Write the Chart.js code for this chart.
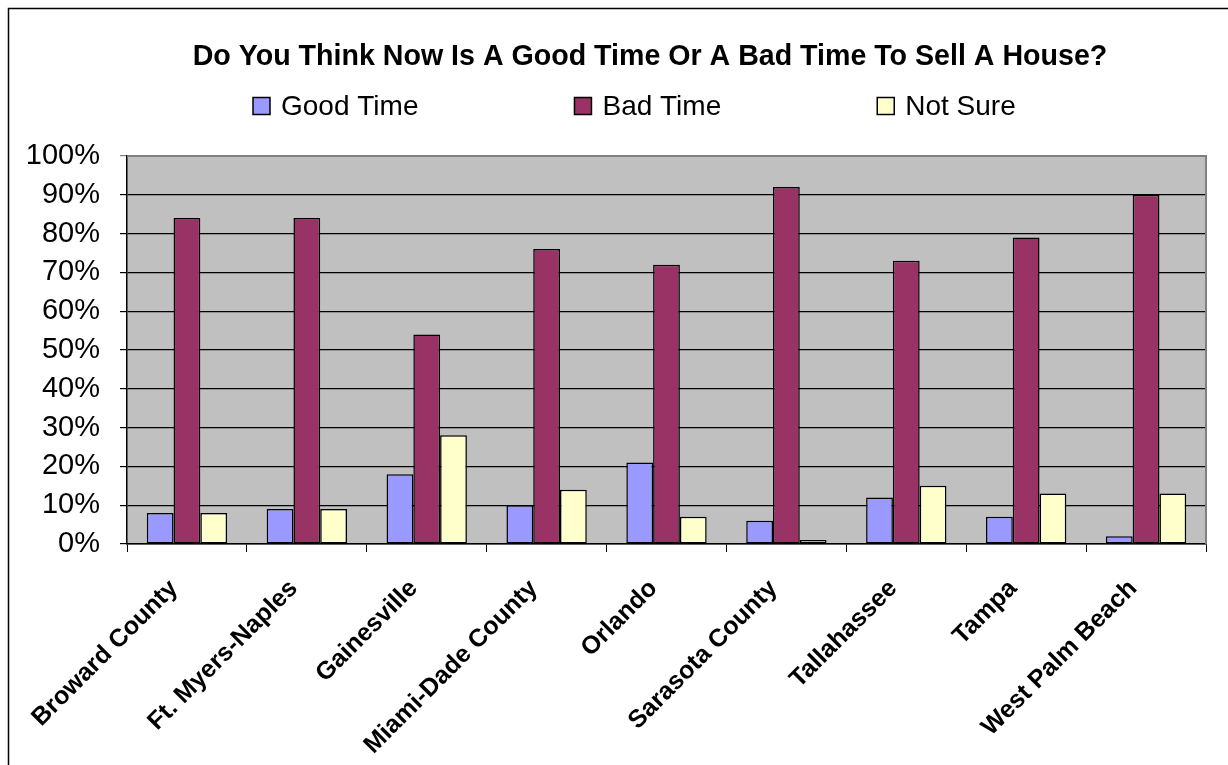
<!DOCTYPE html>
<html>
<head>
<meta charset="utf-8">
<title>Do You Think Now Is A Good Time Or A Bad Time To Sell A House?</title>
<script src="https://cdn.jsdelivr.net/npm/chart.js@4.4.1/dist/chart.umd.min.js"></script>
<style>
  html, body { margin: 0; padding: 0; background: #fff; }
  #wrap { width: 1228px; height: 765px; position: relative; }
</style>
</head>
<body>
<div id="wrap"><canvas id="chart" width="1228" height="765"></canvas></div>
<script>
// Survey answers by market, in percent
const chartTitle = 'Do You Think Now Is A Good Time Or A Bad Time To Sell A House?';
const markets = ['Broward County', 'Ft. Myers-Naples', 'Gainesville', 'Miami-Dade County',
  'Orlando', 'Sarasota County', 'Tallahassee', 'Tampa', 'West Palm Beach'];
const seriesNames = ['Good Time', 'Bad Time', 'Not Sure'];
const goodTime = [8, 9, 18, 10, 21, 6, 12, 7, 2];
const badTime  = [84, 84, 54, 76, 72, 92, 73, 79, 90];
const notSure  = [8, 9, 28, 14, 7, 1, 15, 13, 13];
const seriesColors = ['#9999FF', '#993366', '#FFFFCC'];

const FONT = '"Liberation Sans", Arial, Helvetica, sans-serif';

// Gray plot area, outer frame and the plot's top/right edge
const plotFrame = {
  id: 'plotFrame',
  beforeDraw(chart) {
    const { ctx, chartArea: a } = chart;
    ctx.save();
    ctx.fillStyle = '#ffffff';
    ctx.fillRect(0, 0, chart.width, chart.height);
    ctx.strokeStyle = '#000000';
    ctx.lineWidth = 1.5;
    ctx.beginPath();
    ctx.moveTo(8.5, chart.height + 5);
    ctx.lineTo(8.5, 8.5);
    ctx.lineTo(chart.width + 5, 8.5);
    ctx.stroke();
    ctx.fillStyle = '#C0C0C0';
    ctx.fillRect(a.left, a.top, a.right - a.left, a.bottom - a.top);
    ctx.restore();
  },
  afterDatasetsDraw(chart) {
    const { ctx, chartArea: a } = chart;
    ctx.save();
    ctx.strokeStyle = '#808080';
    ctx.lineWidth = 2;
    ctx.beginPath();
    ctx.moveTo(a.left, a.top);
    ctx.lineTo(a.right, a.top);
    ctx.lineTo(a.right, a.bottom);
    ctx.stroke();
    ctx.restore();
  }
};

// Title line plus a single-row legend with wide spacing between entries
const header = {
  id: 'header',
  afterDraw(chart, args, opts) {
    const { ctx } = chart;
    ctx.save();
    ctx.fillStyle = '#000';
    ctx.textAlign = 'center';
    ctx.textBaseline = 'middle';
    ctx.font = opts.titleFont;
    ctx.fillText(opts.title, opts.titleX, opts.titleY);

    ctx.font = opts.legendFont;
    ctx.textAlign = 'left';
    let x = opts.legendX;
    const y = opts.legendY;
    const s = opts.box;
    chart.data.datasets.forEach(ds => {
      ctx.fillStyle = ds.backgroundColor;
      ctx.fillRect(x, y - s / 2, s, s);
      ctx.strokeStyle = '#000';
      ctx.lineWidth = 1.5;
      ctx.strokeRect(x, y - s / 2, s, s);
      ctx.fillStyle = '#000';
      ctx.fillText(ds.label, x + s + opts.textGap, y + 1);
      x += s + opts.textGap + ctx.measureText(ds.label).width + opts.itemGap;
    });
    ctx.restore();
  }
};

const PAD_LEFT = 12;

new Chart(document.getElementById('chart'), {
  type: 'bar',
  data: {
    labels: markets,
    datasets: [
      { label: seriesNames[0], data: goodTime, backgroundColor: seriesColors[0] },
      { label: seriesNames[1], data: badTime, backgroundColor: seriesColors[1] },
      { label: seriesNames[2], data: notSure, backgroundColor: seriesColors[2] }
    ].map(d => Object.assign(d, {
      borderColor: '#000000', borderWidth: 1.5, borderSkipped: false,
      barPercentage: 1.0, categoryPercentage: 0.67
    }))
  },
  plugins: [plotFrame, header],
  options: {
    responsive: false,
    animation: false,
    layout: { padding: { left: PAD_LEFT, right: 22, top: 156, bottom: 0 } },
    plugins: {
      title: { display: false },
      legend: { display: false },
      tooltip: { enabled: false },
      header: {
        title: chartTitle,
        titleFont: 'bold 28.6px ' + FONT,
        titleX: 650, titleY: 57,
        legendX: 253, legendY: 106, box: 17, textGap: 11, itemGap: 156,
        legendFont: '28px ' + FONT
      }
    },
    scales: {
      x: {
        grid: {
          offset: true, drawOnChartArea: false, drawTicks: true,
          tickLength: 8, color: '#000', lineWidth: 1
        },
        border: { display: true, color: '#000', width: 1.5 },
        ticks: {
          color: '#000', minRotation: 45, maxRotation: 45, autoSkip: false,
          padding: 22, labelOffset: -13,
          font: { family: FONT, size: 25, weight: 'bold' }
        },
        afterFit(scale) { scale.height = 765 - 544; }
      },
      y: {
        min: 0, max: 100,
        grid: {
          color: c => (c.tick && c.tick.value === 100 ? '#808080' : '#000'),
          lineWidth: 1.2, tickLength: 7, drawTicks: true
        },
        border: { display: true, color: '#000', width: 1.5 },
        ticks: {
          stepSize: 10, color: '#000', padding: 20,
          font: { family: FONT, size: 29 },
          callback: v => v + '%'
        },
        afterFit(scale) { scale.width = 127 - PAD_LEFT; }
      }
    }
  }
});
</script>
</body>
</html>
